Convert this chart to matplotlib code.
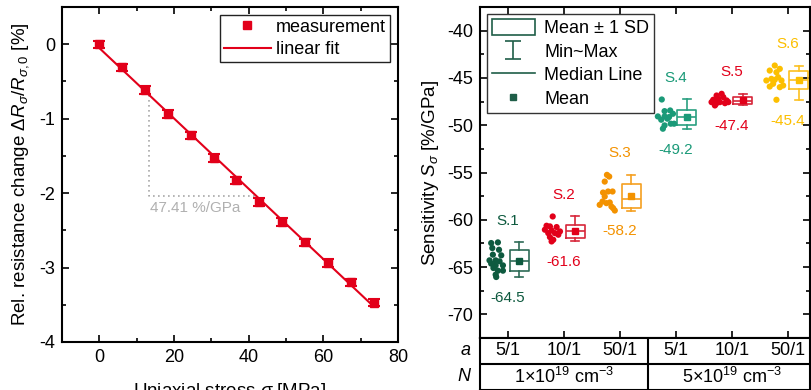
import numpy as np
import matplotlib.pyplot as plt
from matplotlib.patches import Rectangle
from matplotlib.lines import Line2D

plt.rcParams['font.family'] = ['Liberation Sans', 'DejaVu Sans']
plt.rcParams['mathtext.fontset'] = 'custom'
plt.rcParams['mathtext.rm'] = 'Liberation Sans'
plt.rcParams['mathtext.it'] = 'Liberation Sans:italic'
plt.rcParams['axes.unicode_minus'] = False
plt.rcParams['font.size'] = 13

# --- left panel: resistance change vs stress
stress = [0, 6.1, 12.2, 18.4, 24.5, 30.6, 36.7, 42.9, 49.0, 55.1, 61.2, 67.3, 73.5]
dR = [0.0, -0.31, -0.615, -0.94, -1.225, -1.53, -1.83, -2.12, -2.39, -2.66, -2.94, -3.20, -3.47]
dR_err = [0.05, 0.05, 0.05, 0.05, 0.05, 0.05, 0.05, 0.05, 0.05, 0.05, 0.05, 0.05, 0.05]
slope_text = '47.41 %/GPa'

# --- right panel: sensitivity per sample (value, x offset from category)
groups = ['S.1', 'S.2', 'S.3', 'S.4', 'S.5', 'S.6']
mean_labels = ['-64.5', '-61.6', '-58.2', '-49.2', '-47.4', '-45.4']
a_labels = ['5/1', '10/1', '50/1', '5/1', '10/1', '50/1']
N_labels = [r'1$\times$10$^{19}$ cm$^{-3}$', r'5$\times$10$^{19}$ cm$^{-3}$']

s1 = [-62.39, -62.46, -62.99, -63.17, -63.69, -63.76, -64.29, -64.29, -64.39,
      -64.64, -64.82, -64.82, -65.10, -65.38, -65.38, -65.80, -66.05]
s1_dx = [-0.18, -0.30, -0.28, -0.16, -0.27, -0.12, -0.33, -0.22, -0.15,
         -0.30, -0.22, -0.09, -0.26, -0.18, -0.09, -0.22, -0.21]
s2 = [-59.65, -60.63, -60.70, -60.77, -61.05, -61.13, -61.23, -61.41, -61.41,
      -61.58, -61.83, -62.11, -62.29]
s2_dx = [-0.20, -0.31, -0.25, -0.13, -0.34, -0.22, -0.07, -0.28, -0.16,
         -0.10, -0.25, -0.19, -0.22]
s3 = [-55.25, -55.43, -55.96, -57.12, -57.01, -57.01, -57.54, -58.07, -58.24,
      -58.17, -58.42, -58.60, -58.77, -59.02]
s3_dx = [-0.23, -0.19, -0.27, -0.30, -0.21, -0.13, -0.27, -0.31, -0.24,
         -0.18, -0.36, -0.15, -0.12, -0.09]
s4 = [-47.28, -48.51, -48.44, -48.79, -49.07, -49.07, -49.14, -49.42, -49.31,
      -49.84, -50.02, -49.84, -50.37]
s4_dx = [-0.25, -0.20, -0.10, -0.05, -0.32, -0.20, -0.12, -0.26, -0.15,
         -0.03, -0.20, -0.09, -0.23]
s5 = [-46.86, -46.68, -47.31, -47.21, -47.03, -47.38, -47.56, -47.74, -47.56,
      -47.67, -47.56, -47.91]
s5_dx = [-0.27, -0.18, -0.33, -0.24, -0.15, -0.09, -0.36, -0.28, -0.21,
         -0.12, -0.06, -0.30]
s6 = [-43.69, -44.22, -44.40, -44.04, -45.27, -45.10, -45.20, -44.92, -45.27,
      -45.62, -45.91, -45.98, -45.80, -47.31]
s6_dx = [-0.23, -0.32, -0.20, -0.14, -0.38, -0.29, -0.23, -0.17, -0.11,
         -0.26, -0.32, -0.14, -0.08, -0.20]

samples = [s1, s2, s3, s4, s5, s6]
offsets = [s1_dx, s2_dx, s3_dx, s4_dx, s5_dx, s6_dx]

red = '#e2001a'
colors = ['#0e5a3f', red, '#f39200', '#1a9a78', red, '#fcbf00']
box_colors = ['#2d6b56', '#d7263a', '#f5a020', '#2a9f80', '#d7263a', '#fcc020']
leg_col = '#1f5e48'

fig = plt.figure(figsize=(8.11, 3.90), dpi=100)
ax1 = fig.add_axes([62/811, 48/390, 336/811, 335/390])
ax2 = fig.add_axes([480/811, 52/390, 330/811, 331/390])
ax3 = fig.add_axes([480/811, 0.5/390, 330/811, 51.5/390])

# left panel
ax1.errorbar(stress, dR, yerr=dR_err, fmt='none', ecolor=red, elinewidth=2.2,
             capsize=4, capthick=1.5, zorder=3)
meas, = ax1.plot(stress, dR, 's', color=red, ms=6, zorder=4, label='measurement')
fit = np.polyfit(stress, dR, 1)
xf = np.array([stress[0], stress[-1]])
fitline, = ax1.plot(xf, np.polyval(fit, xf), color=red, lw=1.5, zorder=2, label='linear fit')

tx0, tx1 = 13.4, 42.0
ty0, ty1 = np.polyval(fit, tx0), np.polyval(fit, tx1)
ax1.plot([tx0, tx0, tx1], [ty0, ty1, ty1], ls=(0, (1, 2)), color='#a8a8a8', lw=1.2, zorder=1)
ax1.text(tx0 + 0.3, ty1 - 0.07, slope_text, color='#b0b0b0', fontsize=11, ha='left', va='top')

ax1.set_xlim(-10, 80)
ax1.set_ylim(-4, 0.5)
ax1.set_xticks([0, 20, 40, 60, 80])
ax1.set_xticks([10, 30, 50, 70], minor=True)
ax1.set_yticks([-4, -3, -2, -1, 0])
ax1.set_yticks(np.arange(-3.5, 0.5, 1.0), minor=True)
ax1.set_xlabel(r'Uniaxial stress $\sigma$ [MPa]', labelpad=11, fontsize=13.5)
ax1.set_ylabel(r'Rel. resistance change $\Delta R_\sigma/R_{\sigma,0}$ [%]', labelpad=6,
               fontsize=13.5)
ax1.legend([meas, fitline], ['measurement', 'linear fit'], loc='upper right',
           fancybox=False, edgecolor='#222222', framealpha=1, handlelength=2.6,
           handletextpad=0.3, borderpad=0.2, labelspacing=0.3, borderaxespad=0.45,
           fontsize=13)

# right panel
cats = np.arange(1, len(groups) + 1)
for c, vals, dx, col, bcol, name, ml in zip(cats, samples, offsets, colors, box_colors,
                                             groups, mean_labels):
    v = np.array(vals)
    ax2.scatter(c + np.array(dx), v, s=20, color=col, edgecolors='none', zorder=3)
    m, sd = v.mean(), v.std(ddof=1)
    st = dict(med=np.median(v), q1=m - sd, q3=m + sd, whislo=v.min(), whishi=v.max(),
              mean=m, fliers=[])
    lp = dict(color=bcol, lw=1.2)
    ax2.bxp([st], positions=[c + 0.2], widths=0.34, capwidths=0.14, showmeans=True,
            boxprops=lp, whiskerprops=lp, capprops=lp, medianprops=lp,
            meanprops=dict(marker='s', markersize=4, markerfacecolor=col,
                           markeredgecolor=col),
            manage_ticks=False)
    ax2.text(c, v.max() + 2.3, name, color=col, fontsize=11, ha='center', va='center')
    ax2.text(c, v.min() - 2.2, ml, color=col, fontsize=11, ha='center', va='center')

ax2.set_xlim(0.5, 6.4)
ax2.set_ylim(-72.5, -37.5)
ax2.set_xticks(cats)
ax2.set_xticklabels([])
ax2.set_yticks([-70, -65, -60, -55, -50, -45, -40])
ax2.set_yticks(np.arange(-72.5, -37, 5), minor=True)
ax2.set_ylabel(r'Sensitivity $S_\sigma$ [%/GPa]', labelpad=4, fontsize=13.5)

eb = ax2.errorbar([np.nan], [np.nan], yerr=[1], fmt='none', ecolor=leg_col,
                  elinewidth=1.2, capsize=6, capthick=1.2)
h_box = Rectangle((0, 0), 1, 1, facecolor='none', edgecolor=leg_col, lw=1.2)
h_med = Line2D([], [], color=leg_col, lw=1.2)
h_mean = Line2D([], [], ls='none', marker='s', ms=4, color=leg_col)
ax2.legend([h_box, eb, h_med, h_mean], ['Mean ± 1 SD', 'Min~Max', 'Median Line', 'Mean'],
           loc='upper left', fancybox=False, edgecolor='#333333', framealpha=1,
           handlelength=2.4, handleheight=1.0, handletextpad=0.5, borderpad=0.25,
           labelspacing=0.3, borderaxespad=0.4, fontsize=13)

for ax in (ax1, ax2):
    ax.tick_params(which='both', direction='in', top=True, right=True, width=1.2)
    ax.tick_params(which='major', length=5, pad=5, labelsize=13)
    ax.tick_params(which='minor', length=3)
    for sp in ax.spines.values():
        sp.set_linewidth(1.5)

# table below right panel
ax3.set_xlim(ax2.get_xlim())
ax3.set_ylim(0, 2)
ax3.set_xticks([])
ax3.set_yticks([])
for sp in ax3.spines.values():
    sp.set_linewidth(1.5)
ax3.axhline(1, color='k', lw=1.5)
ax3.plot([3.5, 3.5], [0, 2], color='k', lw=1.5)
for c, lab in zip(cats, a_labels):
    ax3.text(c, 1.5, lab, ha='center', va='center', fontsize=13)
ax3.text(2, 0.5, N_labels[0], ha='center', va='center', fontsize=13)
ax3.text(5, 0.5, N_labels[1], ha='center', va='center', fontsize=13)
ax3.text(-0.03, 0.75, 'a', transform=ax3.transAxes, ha='right', va='center',
         fontsize=13, style='italic')
ax3.text(-0.03, 0.25, 'N', transform=ax3.transAxes, ha='right', va='center',
         fontsize=13, style='italic')

fig.savefig('out.png', dpi=100)
